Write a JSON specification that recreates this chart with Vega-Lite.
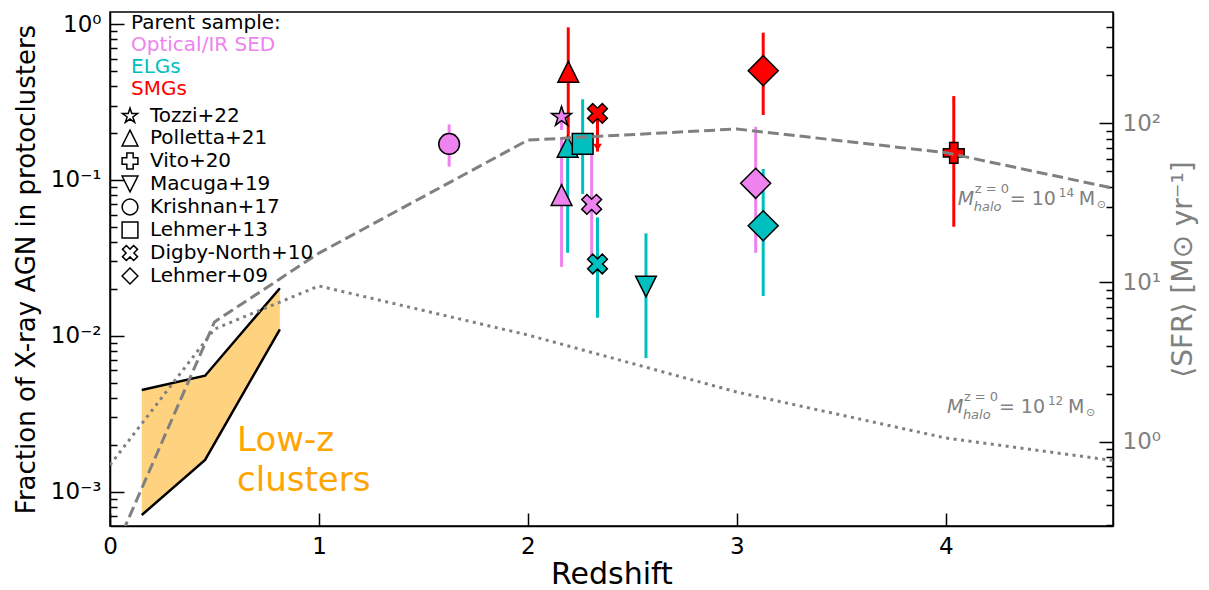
{
  "$schema": "https://vega.github.io/schema/vega-lite/v6.json",
  "width": 1003,
  "height": 514,
  "autosize": {"type": "none"},
  "padding": {"left": 110, "top": 12, "right": 96, "bottom": 64},
  "background": "white",
  "config": {
    "font": "DejaVu Sans",
    "view": {"stroke": "black", "strokeWidth": 1.5},
    "axis": {"grid": false, "domainColor": "black", "domainWidth": 1.5, "tickColor": "black", "tickWidth": 1.5, "labelFont": "DejaVu Sans", "titleFont": "DejaVu Sans", "titleFontWeight": "normal", "labelColor": "black", "titleColor": "black", "labelFontSize": 23, "labelOverlap": false, "labelFlush": false},
    "legend": {"labelFont": "DejaVu Sans", "titleFont": "DejaVu Sans", "labelFontSize": 20, "titleFontSize": 20, "titleFontWeight": "normal", "labelColor": "black", "titleColor": "black", "padding": 0, "labelLimit": 400}
  },
  "datasets": {
    "pts": [
      {"study": "Krishnan+17", "sample": "Optical/IR SED", "z": 1.623, "f": 0.170, "lo": 0.1216, "hi": 0.227},
      {"study": "Tozzi+22", "sample": "Optical/IR SED", "z": 2.161, "f": 0.254, "lo": 0.209, "hi": 0.294},
      {"study": "Polletta+21", "sample": "Optical/IR SED", "z": 2.161, "f": 0.080, "lo": 0.0277, "hi": 0.188},
      {"study": "Polletta+21", "sample": "SMGs", "z": 2.193, "f": 0.494, "lo": 0.17, "hi": 0.952},
      {"study": "Polletta+21", "sample": "ELGs", "z": 2.190, "f": 0.163, "lo": 0.0341, "hi": 0.163},
      {"study": "Lehmer+13", "sample": "ELGs", "z": 2.262, "f": 0.170, "lo": 0.0812, "hi": 0.329},
      {"study": "Digby-North+10", "sample": "Optical/IR SED", "z": 2.305, "f": 0.0697, "lo": 0.0322, "hi": 0.149},
      {"study": "Digby-North+10", "sample": "SMGs", "z": 2.333, "f": 0.267, "lo": 0.267, "hi": 0.267, "lim": 0.152},
      {"study": "Digby-North+10", "sample": "ELGs", "z": 2.333, "f": 0.0289, "lo": 0.01306, "hi": 0.0575},
      {"study": "Macuga+19", "sample": "ELGs", "z": 2.565, "f": 0.0207, "lo": 0.0072, "hi": 0.0454},
      {"study": "Lehmer+09", "sample": "SMGs", "z": 3.126, "f": 0.502, "lo": 0.261, "hi": 0.880},
      {"study": "Lehmer+09", "sample": "Optical/IR SED", "z": 3.090, "f": 0.0951, "lo": 0.0341, "hi": 0.219},
      {"study": "Lehmer+09", "sample": "ELGs", "z": 3.126, "f": 0.0508, "lo": 0.0180, "hi": 0.1175},
      {"study": "Vito+20", "sample": "SMGs", "z": 4.038, "f": 0.149, "lo": 0.0501, "hi": 0.345}
    ],
    "lowz": [
      {"z": 0.152, "lo": 0.000709, "hi": 0.00449},
      {"z": 0.455, "lo": 0.00160, "hi": 0.00555},
      {"z": 0.813, "lo": 0.0110, "hi": 0.0202}
    ],
    "sfr": [
      {"m": 14, "z": 0, "s": 0.178},
      {"m": 14, "z": 0.5, "s": 5.65},
      {"m": 14, "z": 1, "s": 15.3},
      {"m": 14, "z": 2, "s": 78.4},
      {"m": 14, "z": 3, "s": 92.1},
      {"m": 14, "z": 4, "s": 65.4},
      {"m": 14, "z": 5, "s": 34.4},
      {"m": 12, "z": 0, "s": 0.714},
      {"m": 12, "z": 0.5, "s": 5.1},
      {"m": 12, "z": 1, "s": 9.51},
      {"m": 12, "z": 2, "s": 4.68},
      {"m": 12, "z": 3, "s": 2.05},
      {"m": 12, "z": 4, "s": 1.055},
      {"m": 12, "z": 5, "s": 0.703}
    ],
    "ann": [
      {"z": 4.057, "s": 30.7, "e": "14"},
      {"z": 4.005, "s": 1.514, "e": "12"}
    ],
    "lbl": [
      {"z": 0.608, "f": 0.00272, "t": ["Low-z", "clusters"]}
    ]
  },
  "layer": [
    {
      "layer": [
        {
          "data": {"name": "lowz"},
          "mark": {"type": "area", "color": "orange", "opacity": 0.5},
          "encoding": {
            "x": {"field": "z", "type": "quantitative", "scale": {"domain": [0, 4.8], "nice": false, "zero": false},
              "axis": {"values": [0, 1, 2, 3, 4], "format": "d", "tickSize": -13, "labelPadding": 22, "labelFontSize": 23, "title": "Redshift", "titleFontSize": 30, "titlePadding": 1}},
            "y": {"field": "hi", "type": "quantitative", "scale": {"type": "log", "domain": [0.000603, 1.194], "nice": false},
              "axis": {"orient": "left",
                "values": [0.0007, 0.0008, 0.0009, 0.001, 0.002, 0.003, 0.004, 0.005, 0.006, 0.007, 0.008, 0.009, 0.01, 0.02, 0.03, 0.04, 0.05, 0.06, 0.07, 0.08, 0.09, 0.1, 0.2, 0.3, 0.4, 0.5, 0.6, 0.7, 0.8, 0.9, 1],
                "labelExpr": "datum.value == 1 ? '10⁰' : datum.value == 0.1 ? '10⁻¹' : datum.value == 0.01 ? '10⁻²' : datum.value == 0.001 ? '10⁻³' : ''",
                "tickSize": {"condition": {"test": "datum.value == 1 || datum.value == 0.1 || datum.value == 0.01 || datum.value == 0.001", "value": -14}, "value": -7},
                "labelPadding": 23,
                "title": "Fraction of X-ray AGN in protoclusters", "titleFontSize": 26, "titlePadding": 11}},
            "y2": {"field": "lo"}
          }
        },
        {
          "data": {"name": "lowz"},
          "mark": {"type": "line", "color": "black", "strokeWidth": 2.5},
          "encoding": {
            "x": {"field": "z", "type": "quantitative"},
            "y": {"field": "hi", "type": "quantitative"}
          }
        },
        {
          "data": {"name": "lowz"},
          "mark": {"type": "line", "color": "black", "strokeWidth": 2.5},
          "encoding": {
            "x": {"field": "z", "type": "quantitative"},
            "y": {"field": "lo", "type": "quantitative"}
          }
        },
        {
          "data": {"name": "lbl"},
          "mark": {"type": "text", "align": "left", "baseline": "top", "fontSize": 34, "lineHeight": 40, "color": "orange"},
          "encoding": {
            "x": {"field": "z", "type": "quantitative"},
            "y": {"field": "f", "type": "quantitative"},
            "text": {"field": "t"}
          }
        },
        {
          "data": {"name": "pts"},
          "mark": {"type": "rule", "strokeWidth": 3},
          "encoding": {
            "x": {"field": "z", "type": "quantitative"},
            "y": {"field": "lo", "type": "quantitative"},
            "y2": {"field": "hi"},
            "color": {"field": "sample", "type": "nominal",
              "scale": {"domain": ["Optical/IR SED", "ELGs", "SMGs"], "range": ["violet", "#00BFBF", "red"]},
              "legend": {"orient": "none", "legendX": 21, "legendY": 1, "title": "Parent sample:", "titlePadding": 2, "symbolSize": 0, "symbolStrokeWidth": 0, "symbolOpacity": 0, "labelOffset": -20, "rowPadding": 2, "direction": "vertical",
                "labelColor": {"expr": "datum.label == 'SMGs' ? 'red' : datum.label == 'ELGs' ? '#00BFBF' : 'violet'"}}}
          }
        },
        {
          "data": {"name": "pts"},
          "transform": [{"filter": "isValid(datum.lim)"}],
          "mark": {"type": "rule", "strokeWidth": 3, "color": "red"},
          "encoding": {
            "x": {"field": "z", "type": "quantitative"},
            "y": {"field": "f", "type": "quantitative"},
            "y2": {"field": "lim"}
          }
        },
        {
          "data": {"name": "pts"},
          "transform": [{"filter": "isValid(datum.lim)"}],
          "mark": {"type": "point", "shape": "triangle-down", "filled": true, "color": "red", "opacity": 1, "size": 75, "yOffset": -4},
          "encoding": {
            "x": {"field": "z", "type": "quantitative"},
            "y": {"field": "lim", "type": "quantitative"}
          }
        },
        {
          "data": {"name": "pts"},
          "transform": [{"filter": "datum.study != 'Lehmer+09'"}],
          "mark": {"type": "point", "filled": true, "opacity": 1, "stroke": "black", "strokeWidth": 1.5, "size": 430},
          "encoding": {
            "x": {"field": "z", "type": "quantitative"},
            "y": {"field": "f", "type": "quantitative"},
            "color": {"field": "sample", "type": "nominal"},
            "shape": {"field": "study", "type": "nominal",
              "scale": {"domain": ["Tozzi+22", "Polletta+21", "Vito+20", "Macuga+19", "Krishnan+17", "Lehmer+13", "Digby-North+10", "Lehmer+09"],
                "range": ["M0,-1L0.2245,-0.309L0.951,-0.309L0.363,0.118L0.588,0.809L0,0.382L-0.588,0.809L-0.363,0.118L-0.951,-0.309L-0.2245,-0.309Z", "M0,-1L1,1L-1,1Z", "cross", "M0,1L1,-1L-1,-1Z", "circle", "square", "M0.46,-0.954L0.954,-0.46L0.495,0L0.954,0.46L0.46,0.954L0,0.495L-0.46,0.954L-0.954,0.46L-0.495,0L-0.954,-0.46L-0.46,-0.954L0,-0.495Z", "diamond"]},
              "legend": {"orient": "none", "legendX": 10, "legendY": 94, "title": null, "symbolSize": 250, "symbolFillColor": "white", "symbolStrokeColor": "black", "symbolStrokeWidth": 1.5, "labelOffset": 10, "rowPadding": 1, "direction": "vertical"}}
          }
        },
        {
          "data": {"name": "pts"},
          "transform": [{"filter": "datum.study == 'Lehmer+09'"}],
          "mark": {"type": "point", "filled": true, "opacity": 1, "stroke": "black", "strokeWidth": 1.5, "size": 900},
          "encoding": {
            "x": {"field": "z", "type": "quantitative"},
            "y": {"field": "f", "type": "quantitative"},
            "color": {"field": "sample", "type": "nominal"},
            "shape": {"field": "study", "type": "nominal"}
          }
        }
      ]
    },
    {
      "layer": [
        {
          "data": {"name": "sfr"},
          "transform": [{"filter": "datum.m == 14"}],
          "mark": {"type": "line", "color": "gray", "strokeWidth": 3, "strokeDash": [11, 5], "clip": true},
          "encoding": {
            "x": {"field": "z", "type": "quantitative", "scale": {"domain": [0, 4.8], "nice": false, "zero": false}},
            "y": {"field": "s", "type": "quantitative", "scale": {"type": "log", "domain": [0.2955, 500], "nice": false},
              "axis": {"orient": "right",
                "values": [0.3, 0.4, 0.5, 0.6, 0.7, 0.8, 0.9, 1, 2, 3, 4, 5, 6, 7, 8, 9, 10, 20, 30, 40, 50, 60, 70, 80, 90, 100, 200, 300, 400],
                "labelExpr": "datum.value == 1 ? '10⁰' : datum.value == 10 ? '10¹' : datum.value == 100 ? '10²' : ''",
                "tickSize": {"condition": {"test": "datum.value == 1 || datum.value == 10 || datum.value == 100", "value": -14}, "value": -7},
                "labelPadding": 23, "labelColor": "gray",
                "title": "⟨SFR⟩ [M⊙ yr⁻¹]", "titleColor": "gray", "titleFontSize": 28, "titleAngle": 270, "titlePadding": 37}}
          }
        },
        {
          "data": {"name": "sfr"},
          "transform": [{"filter": "datum.m == 12"}],
          "mark": {"type": "line", "color": "gray", "strokeWidth": 3, "strokeDash": [3, 4.5], "clip": true},
          "encoding": {
            "x": {"field": "z", "type": "quantitative"},
            "y": {"field": "s", "type": "quantitative"}
          }
        },
        {
          "data": {"name": "ann"},
          "mark": {"type": "text", "align": "left", "baseline": "alphabetic", "color": "gray", "fontSize": 19, "fontStyle": "italic"},
          "encoding": {"x": {"field": "z", "type": "quantitative"}, "y": {"field": "s", "type": "quantitative"}, "text": {"value": "M"}}
        },
        {
          "data": {"name": "ann"},
          "mark": {"type": "text", "align": "left", "baseline": "alphabetic", "color": "gray", "fontSize": 13, "dx": 17, "dy": -12},
          "encoding": {"x": {"field": "z", "type": "quantitative"}, "y": {"field": "s", "type": "quantitative"}, "text": {"value": "z = 0"}}
        },
        {
          "data": {"name": "ann"},
          "mark": {"type": "text", "align": "left", "baseline": "alphabetic", "color": "gray", "fontSize": 13, "fontStyle": "italic", "dx": 16, "dy": 6},
          "encoding": {"x": {"field": "z", "type": "quantitative"}, "y": {"field": "s", "type": "quantitative"}, "text": {"value": "halo"}}
        },
        {
          "data": {"name": "ann"},
          "mark": {"type": "text", "align": "left", "baseline": "alphabetic", "color": "gray", "fontSize": 19, "dx": 52},
          "encoding": {"x": {"field": "z", "type": "quantitative"}, "y": {"field": "s", "type": "quantitative"}, "text": {"value": "= 10"}}
        },
        {
          "data": {"name": "ann"},
          "mark": {"type": "text", "align": "left", "baseline": "alphabetic", "color": "gray", "fontSize": 12, "dx": 101, "dy": -8},
          "encoding": {"x": {"field": "z", "type": "quantitative"}, "y": {"field": "s", "type": "quantitative"}, "text": {"field": "e"}}
        },
        {
          "data": {"name": "ann"},
          "mark": {"type": "text", "align": "left", "baseline": "alphabetic", "color": "gray", "fontSize": 19, "dx": 121},
          "encoding": {"x": {"field": "z", "type": "quantitative"}, "y": {"field": "s", "type": "quantitative"}, "text": {"value": "M"}}
        },
        {
          "data": {"name": "ann"},
          "mark": {"type": "text", "align": "left", "baseline": "alphabetic", "color": "gray", "fontSize": 11, "dx": 139, "dy": 3},
          "encoding": {"x": {"field": "z", "type": "quantitative"}, "y": {"field": "s", "type": "quantitative"}, "text": {"value": "⊙"}}
        }
      ]
    }
  ],
  "resolve": {"scale": {"y": "independent"}, "axis": {"y": "independent"}}
}
